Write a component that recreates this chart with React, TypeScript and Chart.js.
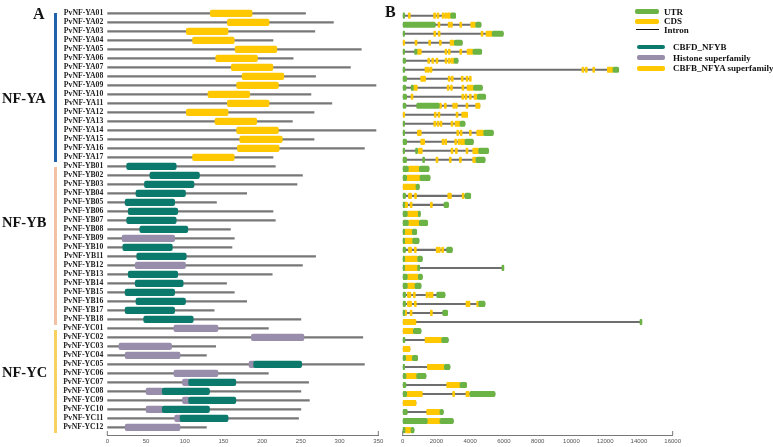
import React, { useEffect, useRef } from "react";
import { Chart, registerables } from "chart.js";
Chart.register(...registerables);

// ---------- DATA ----------
const genes = [
  "PvNF-YA01","PvNF-YA02","PvNF-YA03","PvNF-YA04","PvNF-YA05","PvNF-YA06","PvNF-YA07","PvNF-YA08","PvNF-YA09",
  "PvNF-YA10","PvNF-YA11","PvNF-YA12","PvNF-YA13","PvNF-YA14","PvNF-YA15","PvNF-YA16","PvNF-YA17",
  "PvNF-YB01","PvNF-YB02","PvNF-YB03","PvNF-YB04","PvNF-YB05","PvNF-YB06","PvNF-YB07","PvNF-YB08","PvNF-YB09",
  "PvNF-YB10","PvNF-YB11","PvNF-YB12","PvNF-YB13","PvNF-YB14","PvNF-YB15","PvNF-YB16","PvNF-YB17","PvNF-YB18",
  "PvNF-YC01","PvNF-YC02","PvNF-YC03","PvNF-YC04","PvNF-YC05","PvNF-YC06","PvNF-YC07","PvNF-YC08","PvNF-YC09",
  "PvNF-YC10","PvNF-YC11","PvNF-YC12",
];

// Panel A: protein lengths (aa)
const proteinLengths = [
  256, 292, 268, 214, 328, 240, 314, 269, 347, 263, 290, 267, 239, 347, 267, 332, 214,
  217, 252, 245, 180, 141, 214, 217, 159, 164, 161, 269, 252, 213, 154, 164, 180, 138, 250,
  208, 330, 140, 128, 332, 208, 260, 250, 261, 250, 247, 128,
];

// Panel A domains: [gene, start, end]
const nfyaDomains: [string, number, number][] = [
  ["PvNF-YA01", 133, 187], ["PvNF-YA02", 155, 209], ["PvNF-YA03", 102, 156], ["PvNF-YA04", 110, 164],
  ["PvNF-YA05", 165, 219], ["PvNF-YA06", 140, 194], ["PvNF-YA07", 160, 214], ["PvNF-YA08", 174, 228],
  ["PvNF-YA09", 167, 221], ["PvNF-YA10", 130, 184], ["PvNF-YA11", 155, 209], ["PvNF-YA12", 102, 156],
  ["PvNF-YA13", 139, 193], ["PvNF-YA14", 167, 221], ["PvNF-YA15", 171, 226], ["PvNF-YA16", 168, 222],
  ["PvNF-YA17", 110, 164],
];
const nfybDomains: [string, number, number][] = [
  ["PvNF-YB01", 25, 89], ["PvNF-YB02", 55, 119], ["PvNF-YB03", 48, 112], ["PvNF-YB04", 37, 101],
  ["PvNF-YB05", 23, 87], ["PvNF-YB06", 27, 91], ["PvNF-YB07", 25, 89], ["PvNF-YB08", 42, 104],
  ["PvNF-YB10", 20, 84], ["PvNF-YB11", 38, 102], ["PvNF-YB13", 27, 91], ["PvNF-YB14", 36, 98],
  ["PvNF-YB15", 23, 87], ["PvNF-YB16", 37, 101], ["PvNF-YB17", 23, 87], ["PvNF-YB18", 47, 111],
  ["PvNF-YC05", 189, 251], ["PvNF-YC07", 105, 166], ["PvNF-YC08", 71, 132], ["PvNF-YC09", 105, 166],
  ["PvNF-YC10", 71, 132], ["PvNF-YC11", 94, 156],
];
const histoneDomains: [string, number, number][] = [
  ["PvNF-YB09", 19, 87], ["PvNF-YB12", 36, 101], ["PvNF-YC01", 86, 143], ["PvNF-YC02", 186, 254],
  ["PvNF-YC03", 15, 83], ["PvNF-YC04", 23, 94], ["PvNF-YC05", 183, 192], ["PvNF-YC06", 86, 143],
  ["PvNF-YC07", 97, 107], ["PvNF-YC08", 50, 73], ["PvNF-YC09", 97, 107], ["PvNF-YC10", 50, 73],
  ["PvNF-YC11", 87, 97], ["PvNF-YC12", 23, 94],
];

// Panel B: gene lengths (bp)
const geneLengths = [
  3140, 4640, 5960, 3530, 4680, 3280, 12800, 4030, 4720, 4915, 4580, 3850, 3690, 5370, 4185, 5090, 4880,
  1560, 1620, 985, 4030, 2720, 1045, 1480, 830, 965, 2940, 1165, 5960, 1165, 1085, 2505, 4875, 2665, 14160,
  1085, 2700, 432, 886, 2800, 1380, 3790, 5470, 788, 2407, 3000, 670,
];

// Panel B: UTR segments per gene
const utrSegments: number[][][] = [
  [[0,100],[2842,3140]], [[0,1933],[4323,4640]], [[0,80],[5300,5960]], [[3059,3530]],
  [[0,80],[700,850],[4165,4680]], [[0,175],[3039,3280]], [[0,130],[12460,12800]], [[0,235]],
  [[0,195],[500,630],[4200,4720]], [[0,235],[4422,4915]], [[0,195],[827,2170]], [],
  [[0,80],[3395,3690]], [[0,100],[4800,5370]], [[0,235],[3691,4185]], [[0,100],[760,880],[4500,5090]],
  [[0,235],[1180,1260],[4343,4880]],
  [[0,333],[985,1560]], [[0,235],[1025,1620]], [[788,985]], [[0,175],[3691,4030]], [[0,60],[2447,2720]],
  [[0,274],[926,1045]], [[0,333],[985,1480]], [[0,96],[570,830]], [[0,96],[590,965]], [[0,175],[2605,2940]],
  [[0,116],[886,1165]], [[0,116],[886,960],[5880,5960]], [[0,274],[926,1165]], [[0,274],[728,1085]],
  [[0,175],[2012,2505]], [[0,175],[4501,4875]], [[0,96],[2368,2665]], [[14060,14160]],
  [[630,1085]], [[0,136],[2308,2700]], [], [[0,175],[570,886]], [[0,77],[2466,2800]], [[0,195],[827,1380]],
  [[0,195],[3395,3790]], [[0,235],[3987,5470]], [], [[0,274],[2210,2407]], [[0,1459],[2210,3000]],
  [[0,136],[491,670]],
];

// Panel B: CDS segments per gene
const cdsSegments: number[][][] = [
  [[330,430],[1830,1920],[2030,2110],[2330,2410],[2490,2570],[2644,2842]],
  [[2090,2170],[2690,2760],[2830,2900],[3380,3450],[4026,4323]],
  [[1840,1920],[2100,2170],[4640,4720],[4935,5300]],
  [[0,80],[730,810],[1540,1610],[2170,2250],[2802,3059]],
  [[866,1104],[2500,2580],[2700,2780],[3380,3450],[3809,4165]],
  [[1480,1560],[1720,1790],[1970,2050],[2510,2580],[2700,2780],[2861,3039]],
  [[1320,1400],[1460,1540],[1620,1700],[10620,10700],[10820,10900],[11260,11340],[12124,12460]],
  [[1064,1360],[2690,2760],[2880,2960],[3470,3550],[3750,3830],[3950,4030]],
  [[630,866],[2630,2700],[2830,2900],[3510,3590],[3809,4200]],
  [[490,570],[3500,3570],[3690,3770],[3950,4030],[4224,4422]],
  [[2170,2300],[2470,2540],[2960,3040],[3120,3200],[3750,3830],[4323,4580]],
  [[0,60],[1870,1950],[2090,2170],[3160,3240],[3493,3850]],
  [[1840,1910],[2030,2110],[2210,2290],[2860,2940],[3098,3395]],
  [[866,1104],[3200,3280],[3400,3470],[3950,4030],[4382,4800]],
  [[1064,1301],[2330,2410],[2490,2570],[3080,3160],[3280,3360],[3420,3691]],
  [[926,1163],[2860,2940],[3120,3200],[3750,3830],[4145,4500]],
  [[1970,2050],[2760,2840],[3360,3440],[4145,4343]],
  [[333,985]], [[235,1025]], [[0,788]],
  [[333,531],[700,770],[2670,2740],[2770,2840],[3520,3590]],
  [[60,294],[440,510],[1640,1710]],
  [[274,926]], [[333,985]], [[96,570]], [[96,590]],
  [[333,531],[690,770],[1980,2050],[2110,2190],[2310,2390]],
  [[116,886]], [[116,886]], [[274,926]], [[274,728]],
  [[274,491],[630,710],[1380,1460],[1540,1610],[1680,1750]],
  [[274,531],[690,770],[3750,3830],[3870,3950],[4380,4460]],
  [[96,235],[440,510],[1640,1710]],
  [[0,788]],
  [[0,630]], [[1321,2308]], [[0,432]], [[175,570]], [[1459,2466]], [[195,827]], [[2605,3395]],
  [[235,1163],[2960,3040],[3750,3948]], [[0,788]], [[1420,2210]], [[1459,2210]], [[136,491]],
];

const xTicksA = [0, 50, 100, 150, 200, 250, 300, 350];
const xTicksB = [0, 2000, 4000, 6000, 8000, 10000, 12000, 14000, 16000];

const groups = [
  { name: "NF-YA", first: "PvNF-YA01", last: "PvNF-YA17", color: "#2063aa", labelY: 98.3 },
  { name: "NF-YB", first: "PvNF-YB01", last: "PvNF-YB18", color: "#f3c1a3", labelY: 221.7 },
  { name: "NF-YC", first: "PvNF-YC01", last: "PvNF-YC12", color: "#f8d163", labelY: 371.7 },
];

// ---------- STYLE ----------
const YELLOW = "#ffc800";
const TEAL = "#0b7a6c";
const LAVENDER = "#988dab";
const GREEN = "#6cb345";
const LINE = "#777777";
const SERIF = "'Liberation Serif', 'Times New Roman', serif";
const NARROW = "'Liberation Sans Narrow', 'Liberation Sans', sans-serif";

const A_MIN = -0.52, A_MAX = 46.85;
const B_MIN = -0.966, B_MAX = 46.55;

const idx = (g: string) => genes.indexOf(g);

const endHooks = {
  id: "endHooks",
  afterDraw(chart: any) {
    const x = chart.scales.x;
    const ctx = chart.ctx;
    ctx.save();
    ctx.strokeStyle = "#777";
    ctx.lineWidth = 1;
    [x.left, x.right].forEach((px: number) => {
      ctx.beginPath();
      ctx.moveTo(px, x.top);
      ctx.lineTo(px, x.top - 4);
      ctx.stroke();
    });
    ctx.restore();
  },
};

function xAxis(min: number, max: number, ticks: number[]) {
  return {
    type: "linear",
    position: "bottom",
    min,
    max,
    offset: false,
    grid: { display: false, drawTicks: false },
    border: { display: true, color: "#777", width: 1 },
    afterBuildTicks: (s: any) => { s.ticks = ticks.map((v) => ({ value: v })); },
    ticks: {
      autoSkip: false,
      maxRotation: 0,
      padding: 3,
      color: "#555",
      font: { size: 6, family: NARROW },
      callback: (v: any) => String(v),
    },
    afterFit: (s: any) => { s.height = 12; },
  };
}

const boxStyle = (color: string, thick: number, radius: number, order: number, extra: any = {}) => ({
  backgroundColor: color,
  barThickness: thick,
  maxBarThickness: thick,
  borderRadius: radius,
  borderSkipped: false,
  order,
  ...extra,
});

export default function App() {
  const refA = useRef<HTMLCanvasElement>(null);
  const refB = useRef<HTMLCanvasElement>(null);

  useEffect(() => {
    const chartA = new Chart(refA.current as HTMLCanvasElement, {
      type: "bar",
      data: {
        datasets: [
          {
            label: "protein",
            data: genes.map((_, i) => ({ x: [0, proteinLengths[i]], y: i })),
            ...boxStyle(LINE, 1.6, 0, 10),
          },
          {
            label: "Histone superfamily",
            data: histoneDomains.map(([g, s, e]) => ({ x: [s, e], y: idx(g) })),
            ...boxStyle(LAVENDER, 6.5, 2, 5),
          },
          {
            label: "CBFD_NFYB",
            data: nfybDomains.map(([g, s, e]) => ({ x: [s, e], y: idx(g) })),
            ...boxStyle(TEAL, 6.5, 2, 4),
          },
          {
            label: "CBFB_NFYA superfamily",
            data: nfyaDomains.map(([g, s, e]) => ({ x: [s, e], y: idx(g) })),
            ...boxStyle(YELLOW, 6.5, 2, 3),
          },
        ] as any,
      },
      options: {
        responsive: false,
        animation: false,
        indexAxis: "y",
        datasets: { bar: { grouped: false } } as any,
        layout: { padding: { left: 0, right: 390 - 378.3, top: 7, bottom: 0 } },
        plugins: { legend: { display: false }, tooltip: { enabled: false } },
        scales: {
          x: xAxis(0, 350, xTicksA) as any,
          y: {
            type: "linear",
            reverse: true,
            offset: false,
            min: A_MIN,
            max: A_MAX,
            grid: { display: false, drawTicks: false, offset: false },
            border: { display: false },
            afterBuildTicks: (s: any) => { s.ticks = genes.map((_, i) => ({ value: i })); },
            ticks: {
              autoSkip: false,
              padding: 4,
              color: "#222",
              font: { size: 7.7, family: SERIF, weight: "bold" },
              callback: (v: any) => genes[v as number],
            },
            afterFit: (s: any) => { s.width = 107.3; },
          } as any,
        },
      },
      plugins: [endHooks],
    });

    const flat = (segs: number[][][]) =>
      segs.flatMap((list, i) => list.map(([s, e]) => ({ x: [s, e], y: i })));

    const chartB = new Chart(refB.current as HTMLCanvasElement, {
      type: "bar",
      data: {
        datasets: [
          {
            label: "Intron",
            data: genes.map((_, i) => ({ x: [0, geneLengths[i]], y: i })),
            ...boxStyle("#6e6e6e", 1.4, 0, 10),
          },
          {
            label: "CDS",
            data: flat(cdsSegments),
            ...boxStyle(YELLOW, 5.5, 1.2, 5, { minBarLength: 2 }),
          },
          {
            label: "UTR",
            data: flat(utrSegments),
            ...boxStyle(GREEN, 5.5, 1.5, 4, { minBarLength: 2 }),
          },
        ] as any,
      },
      options: {
        responsive: false,
        animation: false,
        indexAxis: "y",
        datasets: { bar: { grouped: false } } as any,
        layout: { padding: { left: 12.7, right: 383 - 282.7, top: 7, bottom: 0 } },
        plugins: { legend: { display: false }, tooltip: { enabled: false } },
        scales: {
          x: xAxis(0, 16000, xTicksB) as any,
          y: {
            type: "linear", display: false, reverse: true, offset: false,
            grid: { offset: false }, min: B_MIN, max: B_MAX,
          } as any,
        },
      },
      plugins: [endHooks],
    });

    return () => {
      chartA.destroy();
      chartB.destroy();
    };
  }, []);

  // row pixel helper for panel A overlays (same mapping as the A y-scale)
  const rowY = (i: number) => 7 + (i - A_MIN) * (428 / (A_MAX - A_MIN));

  const legendText = (txt: string, left: number, cy: number) => (
    <div style={{ position: "absolute", left, top: cy - 5, height: 10, lineHeight: "10px",
      fontFamily: SERIF, fontWeight: "bold", fontSize: 9, color: "#111", whiteSpace: "nowrap" }}>{txt}</div>
  );
  const legendBox = (color: string, left: number, w: number, cy: number, h: number, r = 2) => (
    <div style={{ position: "absolute", left, top: cy - h / 2, width: w, height: h, background: color, borderRadius: r }} />
  );

  return (
    <div style={{ position: "absolute", left: 0, top: 0, width: 773, height: 447, background: "#fff", overflow: "hidden" }}>
      <canvas ref={refA} width={390} height={447} style={{ position: "absolute", left: 0, top: 0, display: "block" }} />
      <canvas ref={refB} width={383} height={447} style={{ position: "absolute", left: 390, top: 0, display: "block" }} />

      <div style={{ position: "absolute", left: 33, top: 4, fontFamily: SERIF, fontWeight: "bold", fontSize: 16, lineHeight: "20px", color: "#111" }}>A</div>
      <div style={{ position: "absolute", left: 385, top: 2, fontFamily: SERIF, fontWeight: "bold", fontSize: 16, lineHeight: "20px", color: "#111" }}>B</div>

      {groups.map((g) => {
        const y1 = rowY(idx(g.first)) + 1.6;
        const y2 = rowY(idx(g.last)) + 6;
        return (
          <React.Fragment key={g.name}>
            <div style={{ position: "absolute", left: 53.5, top: y1, width: 3.5, height: y2 - y1, background: g.color }} />
            <div style={{ position: "absolute", left: 2, top: g.labelY - 9, height: 18, lineHeight: "18px",
              fontFamily: SERIF, fontWeight: "bold", fontSize: 14.5, color: "#111", whiteSpace: "nowrap" }}>{g.name}</div>
          </React.Fragment>
        );
      })}

      {legendBox(GREEN, 635, 24, 11.5, 5)}
      {legendText("UTR", 664, 11.5)}
      {legendBox(YELLOW, 635, 24, 21, 5)}
      {legendText("CDS", 664, 20.5)}
      {legendBox("#111", 636, 23, 29.5, 1.5, 0)}
      {legendText("Intron", 664, 30)}
      {legendBox(TEAL, 637, 28, 47, 4.5)}
      {legendText("CBFD_NFYB", 673, 47)}
      {legendBox(LAVENDER, 637, 28, 57.7, 4.5)}
      {legendText("Histone superfamily", 673, 57.7)}
      {legendBox(YELLOW, 637, 28, 68.3, 4.5)}
      {legendText("CBFB_NFYA superfamily", 673, 68.3)}
    </div>
  );
}
